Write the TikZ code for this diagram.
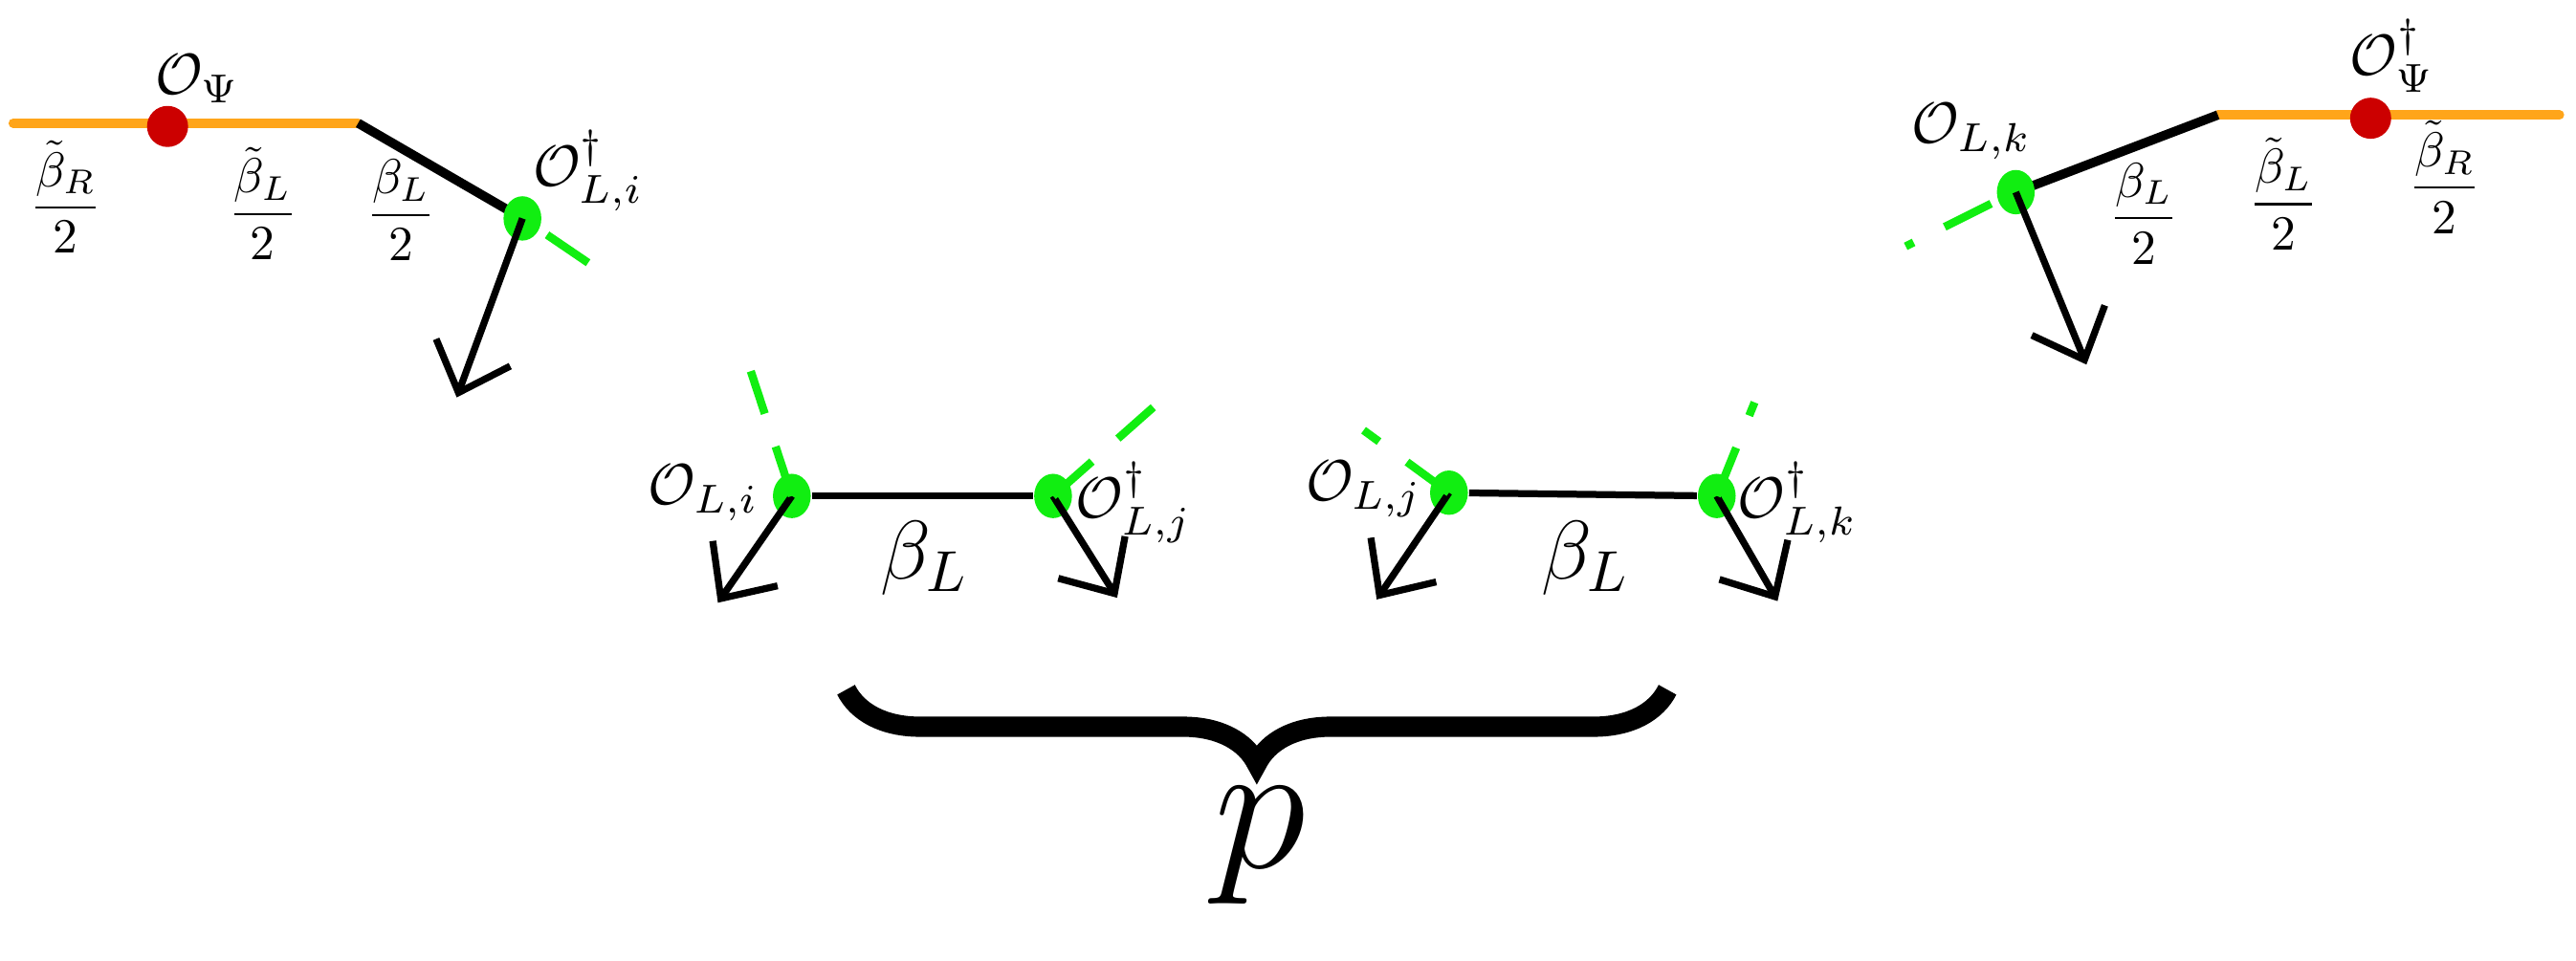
\documentclass[tikz,border=0pt]{standalone}
\usepackage{amsmath}
\usetikzlibrary{arrows.meta,decorations.pathreplacing,shapes.geometric}
\definecolor{orng}{HTML}{FFA51A}
\definecolor{rdot}{HTML}{CC0000}
\definecolor{gdot}{HTML}{11EE11}
\begin{document}
\begin{tikzpicture}[x={(0.01cm,0)},y={(0,-0.01cm)},
  rdotst/.style={circle,fill=rdot,inner sep=0pt,minimum width=0.25cm},
  gdotst/.style={ellipse,fill=gdot,inner sep=0pt,minimum width=0.23cm,minimum height=0.27cm},
  orline/.style={orng,line width=1.6pt,line cap=round},
  bkline/.style={black,line width=1.6pt},
  thinline/.style={black,line width=1.2pt},
  arr/.style={black,line width=1.2pt,-{Straight Barb[length=2.6mm,width=4.8mm,line width=1.2pt]}},
  gdash/.style={gdot,line width=1.4pt,dash pattern=on 9pt off 6pt},
  lab/.style={inner sep=1pt},
  frac/.style={inner sep=1pt,scale=0.85}]
\path[use as bounding box] (0,0) rectangle (1568,585);
% left
\coordinate (la) at (8,75);
\coordinate (lb) at (218,75);
\draw[orline] (la) -- (lb);
\draw[bkline] (lb) -- (318,133);
\node[rdotst] (lr) at (102,77) {};
\node[gdotst] (lg) at (318,133) {};
\coordinate (lt) at (278,242);
\draw[arr] (lg.center) -- (lt);
\coordinate (ld1) at (333,143); \coordinate (ld2) at (358,160);
\draw[gdash] (ld1) -- (ld2);
\node[lab] (lo) at (120,48) {$\mathcal{O}_\Psi$};
\node[frac] (lf1) at (40,120) {$\dfrac{\tilde\beta_R}{2}$};
\node[frac] (lf2) at (160,124) {$\dfrac{\tilde\beta_L}{2}$};
\node[frac] (lf3) at (244,128) {$\dfrac{\beta_L}{2}$};
\node[lab] (lod) at (358,104) {$\mathcal{O}^\dagger_{L,i}$};
% middle pair 1
\node[gdotst] (m1) at (482,302) {};
\node[gdotst] (m2) at (641,302) {};
\draw[thinline] (m1) -- (m2);
\coordinate (m1t) at (437,367); \coordinate (m2t) at (680,364);
\draw[arr] (m1.center) -- (m1t);
\draw[arr] (m2.center) -- (m2t);
\coordinate (m1d) at (457,226);
\draw[gdash] (m1.center) -- (m1d);
\coordinate (m2d) at (702,248);
\draw[gdash] (m2.center) -- (m2d);
\node[lab] (m1l) at (428,300) {$\mathcal{O}_{L,i}$};
\node[lab] (m2l) at (690,306) {$\mathcal{O}^\dagger_{L,j}$};
\node[lab] (m12) at (563,340) {\Large$\beta_L$};
% middle pair 2
\node[gdotst] (n1) at (882,300) {};
\node[gdotst] (n2) at (1045,302) {};
\draw[thinline] (n1) -- (n2);
\coordinate (n1t) at (838,365); \coordinate (n2t) at (1082,366);
\draw[arr] (n1.center) -- (n1t);
\draw[arr] (n2.center) -- (n2t);
\coordinate (n1d) at (830,262);
\draw[gdash] (n1.center) -- (n1d);
\coordinate (n2d) at (1068,245);
\draw[gdash] (n2.center) -- (n2d);
\node[lab] (n1l) at (830,298) {$\mathcal{O}_{L,j}$};
\node[lab] (n2l) at (1094,306) {$\mathcal{O}^\dagger_{L,k}$};
\node[lab] (n12) at (965,340) {\Large$\beta_L$};
% brace
\coordinate (bl) at (515,420); \coordinate (br) at (1015,420);
\draw[line width=3.5pt,decorate,decoration={brace,mirror,amplitude=0.45cm}] (bl) -- (br);
\node[lab] (pp) at (767,515) {\scalebox{1.3}{\Huge$p$}};
% right
\coordinate (ra) at (1350,70);
\coordinate (rb) at (1558,70);
\draw[orline] (ra) -- (rb);
\draw[bkline] (ra) -- (1227,117);
\node[rdotst] (rr) at (1443,72) {};
\node[gdotst] (rg) at (1227,117) {};
\coordinate (rt) at (1270,222);
\draw[arr] (rg.center) -- (rt);
\coordinate (rd1) at (1212,124); \coordinate (rd2) at (1160,150);
\draw[gdash] (rd1) -- (rd2);
\node[lab] (rol) at (1200,80) {$\mathcal{O}_{L,k}$};
\node[lab] (rod) at (1456,34) {$\mathcal{O}^\dagger_\Psi$};
\node[frac] (rf1) at (1305,130) {$\dfrac{\beta_L}{2}$};
\node[frac] (rf2) at (1390,118) {$\dfrac{\tilde\beta_L}{2}$};
\node[frac] (rf3) at (1488,108) {$\dfrac{\tilde\beta_R}{2}$};
\end{tikzpicture}
\end{document}
